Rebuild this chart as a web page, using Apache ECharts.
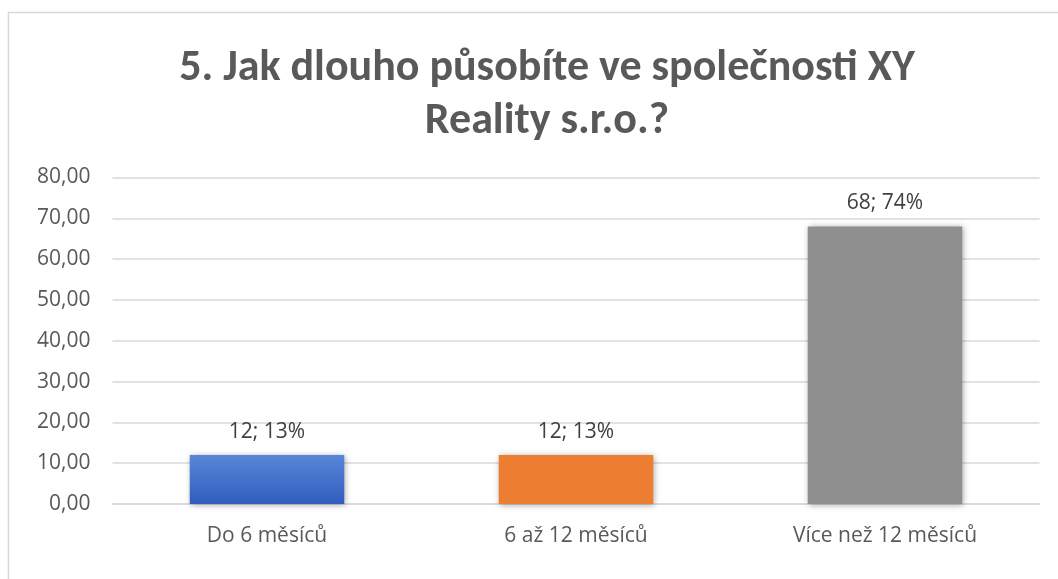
<!DOCTYPE html>
<html><head><meta charset="utf-8">
<script src="https://cdn.jsdelivr.net/npm/echarts@6/dist/echarts.min.js"></script>
<style>html,body{margin:0;padding:0;background:#fff}#c{width:1058px;height:579px}</style>
</head><body><div id="c"></div>
<script>
const titleText = '5. Jak dlouho působíte ve společnosti XY\nReality s.r.o.?';
const categories = ['Do 6 měsíců', '6 až 12 měsíců', 'Více než 12 měsíců'];
const counts = [12, 12, 68];
const percents = ['13%', '13%', '74%'];
const yTicks = [0, 10, 20, 30, 40, 50, 60, 70, 80];

const FONT = "Carlito, 'Liberation Sans Narrow', 'Open Sans', sans-serif";
const LFONT = "'Open Sans', 'Noto Sans', sans-serif";
const colors = [
  new echarts.graphic.LinearGradient(0,0,0,1,[{offset:0,color:'#5A86D8'},{offset:1,color:'#2E5DBE'}]),
  '#ED7D31',
  '#8F8F8F'
];
const chart = echarts.init(document.getElementById('c'));
chart.setOption({
  animation:false,
  backgroundColor:'#fff',
  graphic:[{type:'rect',shape:{x:8.5,y:12.5,width:1200,height:700},style:{fill:'none',stroke:'#d9d9d9',lineWidth:1.5},silent:true}],
  title:{text:titleText,left:542,textAlign:'center',top:37,textStyle:{fontFamily:FONT,fontSize:44,fontWeight:'bold',color:'#595959',lineHeight:53}},
  grid:{left:112.5,right:18.5,top:177.5,bottom:75},
  xAxis:{type:'category',data:categories,axisTick:{show:false},axisLine:{lineStyle:{color:'#d9d9d9',width:1.5}},
    axisLabel:{fontFamily:LFONT,fontSize:21,color:'#595959',margin:22}},
  yAxis:{type:'value',min:yTicks[0],max:yTicks[yTicks.length-1],interval:10,
    axisLine:{show:false},axisTick:{show:false},
    splitLine:{lineStyle:{color:'#d9d9d9',width:1.5}},
    axisLabel:{fontFamily:LFONT,fontSize:21,color:'#595959',margin:22,formatter:v=>v.toFixed(2).replace('.',',')}},
  series:[{type:'bar',barWidth:'50%',
    data:counts.map((v,i)=>({value:v,itemStyle:{color:colors[i]}})),
    itemStyle:{shadowColor:'rgba(0,0,0,0.35)',shadowBlur:6,shadowOffsetX:1,shadowOffsetY:1},
    label:{show:true,position:'top',distance:13,fontFamily:LFONT,fontSize:21,color:'#404040',
      formatter:p=>counts[p.dataIndex]+'; '+percents[p.dataIndex]}}]
});
</script></body></html>
